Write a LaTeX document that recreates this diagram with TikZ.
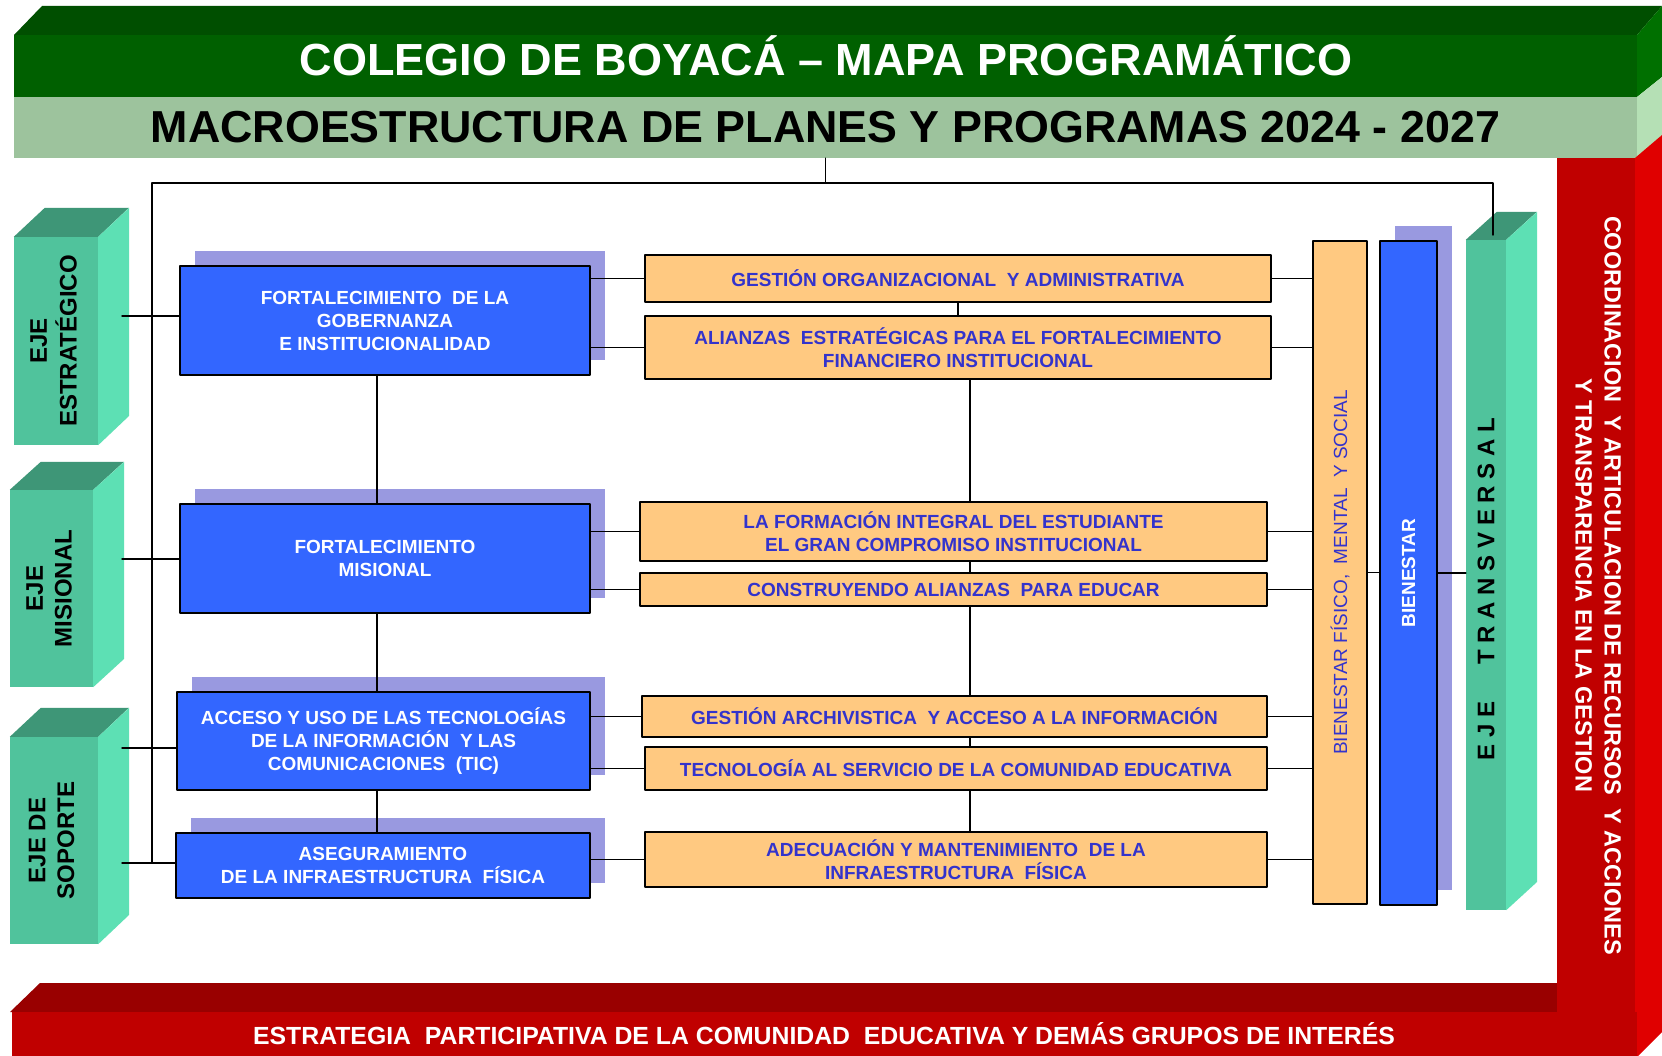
\documentclass[tikz,border=0pt]{standalone}
\usepackage{fontspec}
\setmainfont{Liberation Sans}
\usepackage{graphicx}
\usetikzlibrary{shadows}
\definecolor{qqufqq}{rgb}{0,0.31,0}
\definecolor{qqwqqq}{rgb}{0,0.376,0}
\definecolor{qqxqqq}{rgb}{0,0.44,0}
\definecolor{zdctzd}{rgb}{0.616,0.765,0.616}
\definecolor{bveqbv}{rgb}{0.71,0.878,0.71}
\definecolor{cqqqqq}{rgb}{0.753,0,0}
\definecolor{zzqqqq}{rgb}{0.6,0,0}
\definecolor{eqqqqq}{rgb}{0.878,0,0}
\definecolor{vqctzc}{rgb}{0.314,0.765,0.612}
\definecolor{vdeqbu}{rgb}{0.365,0.878,0.706}
\definecolor{tezwxx}{rgb}{0.243,0.588,0.467}
\definecolor{ttwwff}{rgb}{0.2,0.4,1}
\definecolor{zzzzeq}{rgb}{0.6,0.6,0.878}
\definecolor{ffczyr}{rgb}{1,0.788,0.506}
\definecolor{ttttcc}{rgb}{0.2,0.2,0.8}
\begin{document}
\begin{tikzpicture}[line cap=round,line join=round,x=1pt,y=-1pt,
	conn/.style={line width=1.5pt},
	bluebox/.style={draw=black,line width=1.6pt,fill=ttwwff,text=white,align=center,inner sep=0pt,
		font=\bfseries\fontsize{19}{23}\selectfont,
		general shadow={fill=zzzzeq,shadow xshift=15pt,shadow yshift=15pt}},
	orabox/.style={draw=black,line width=1.6pt,fill=ffczyr,text=ttttcc,align=center,inner sep=0pt,
		font=\bfseries\fontsize{19}{23.5}\selectfont},
	ejeface/.style={fill=vqctzc,inner sep=0pt,font=\bfseries\fontsize{24}{28.6}\selectfont}]
	\useasboundingbox (0,0) rectangle (1662,1056);
	\fill[white] (0,0) rectangle (1662,1056);
	\fill[qqufqq] (14,35) -- (42,6) -- (1662,6) -- (1637,35) -- cycle;
	\fill[qqxqqq] (1637,35) -- (1662,6) -- (1662,77) -- (1637,97) -- cycle;
	\fill[bveqbv] (1637,97) -- (1662,77) -- (1662,135) -- (1637,158) -- cycle;
	\fill[qqwqqq] (14,35) rectangle (1637,97);
	\node[text=white,font=\bfseries\fontsize{45}{50}\selectfont] (titulo) at (826,56) {COLEGIO DE BOYACÁ – MAPA PROGRAMÁTICO};
	\node[fill=zdctzd,minimum width=1623pt,minimum height=61pt,inner sep=0pt,font=\bfseries\fontsize{44.8}{50}\selectfont] (subtit) at (825.5,127.5) {MACROESTRUCTURA DE PLANES Y PROGRAMAS 2024 - 2027};
	\fill[eqqqqq] (1635,158) -- (1662,135) -- (1662,1032) -- (1638,1056) -- (1635,1056) -- cycle;
	\fill[zzqqqq] (10,1012) -- (40,983) -- (1557,983) -- (1557,1012) -- cycle;
	\node[fill=cqqqqq,minimum width=78pt,minimum height=855pt,inner sep=0pt,text=white,font=\bfseries\fontsize{23.5}{29}\selectfont] (columna) at (1596,585.5) {\rotatebox{-90}{\begin{tabular}{@{}c@{}}COORDINACION \ Y ARTICULACION DE RECURSOS \ Y ACCIONES\\Y TRANSPARENCIA EN LA GESTION\end{tabular}}};
	\node[fill=cqqqqq,minimum width=1625pt,minimum height=44pt,inner sep=0pt,text=white,font=\bfseries\fontsize{24.8}{28}\selectfont] (franja) at (824,1034) {ESTRATEGIA \ PARTICIPATIVA DE LA COMUNIDAD \ EDUCATIVA Y DEMÁS GRUPOS DE INTERÉS};
	\node[ejeface,minimum width=84pt,minimum height=208pt] (ejeest) at (56,341) {\rotatebox{90}{\begin{tabular}{@{}c@{}}EJE\\ESTRATÉGICO\end{tabular}}};
	\fill[tezwxx] (ejeest.north west) -- ++(31,-29) -- ++(84,0) -- (ejeest.north east) -- cycle;
	\fill[vdeqbu] (ejeest.north east) -- ++(31,-29) -- ++(0,208) -- (ejeest.south east) -- cycle;
	\node[ejeface,minimum width=83pt,minimum height=197pt] (ejemis) at (51.5,588.5) {\rotatebox{90}{\begin{tabular}{@{}c@{}}EJE\\MISIONAL\end{tabular}}};
	\fill[tezwxx] (ejemis.north west) -- ++(31,-28) -- ++(83,0) -- (ejemis.north east) -- cycle;
	\fill[vdeqbu] (ejemis.north east) -- ++(31,-28) -- ++(0,197) -- (ejemis.south east) -- cycle;
	\node[ejeface,minimum width=88pt,minimum height=207pt] (ejesop) at (54,840.5) {\rotatebox{90}{\begin{tabular}{@{}c@{}}EJE DE\\SOPORTE\end{tabular}}};
	\fill[tezwxx] (ejesop.north west) -- ++(31,-29) -- ++(88,0) -- (ejesop.north east) -- cycle;
	\fill[vdeqbu] (ejesop.north east) -- ++(31,-29) -- ++(0,207) -- (ejesop.south east) -- cycle;
	\node[ejeface,minimum width=40pt,minimum height=670pt] (ejetra) at (1486,575) {\rotatebox{90}{E J E\hspace{37pt}T R A N S V E R S A L\hspace{28pt}}};
	\fill[tezwxx] (ejetra.north west) -- ++(31,-28) -- ++(40,0) -- (ejetra.north east) -- cycle;
	\fill[vdeqbu] (ejetra.north east) -- ++(31,-28) -- ++(0,670) -- (ejetra.south east) -- cycle;
	\node[bluebox,minimum width=410pt,minimum height=109pt] (b1) at (385,320.5) {FORTALECIMIENTO \ DE LA\\GOBERNANZA\\E INSTITUCIONALIDAD};
	\node[bluebox,minimum width=410pt,minimum height=109pt] (b2) at (385,558.5) {FORTALECIMIENTO\\MISIONAL};
	\node[bluebox,minimum width=413pt,minimum height=98pt] (b3) at (383.5,741) {ACCESO Y USO DE LAS TECNOLOGÍAS\\DE LA INFORMACIÓN \ Y LAS\\COMUNICACIONES \ (TIC)};
	\node[bluebox,minimum width=414pt,minimum height=65pt] (b4) at (383,865.5) {ASEGURAMIENTO\\DE LA INFRAESTRUCTURA \ FÍSICA};
	\node[orabox,minimum width=626pt,minimum height=47pt] (o1) at (958,278.5) {GESTIÓN ORGANIZACIONAL \ Y ADMINISTRATIVA};
	\node[orabox,minimum width=626pt,minimum height=63pt] (o2) at (958,347.5) {ALIANZAS \ ESTRATÉGICAS PARA EL FORTALECIMIENTO\\FINANCIERO INSTITUCIONAL};
	\node[orabox,minimum width=627pt,minimum height=59pt] (o3) at (953.5,531.5) {LA FORMACIÓN INTEGRAL DEL ESTUDIANTE\\EL GRAN COMPROMISO INSTITUCIONAL};
	\node[orabox,minimum width=627pt,minimum height=33pt] (o4) at (953.5,589.5) {CONSTRUYENDO ALIANZAS \ PARA EDUCAR};
	\node[orabox,minimum width=625pt,minimum height=41pt] (o5) at (954.5,716.5) {GESTIÓN ARCHIVISTICA \ Y ACCESO A LA INFORMACIÓN};
	\node[orabox,minimum width=622pt,minimum height=43pt] (o6) at (956,768.5) {TECNOLOGÍA AL SERVICIO DE LA COMUNIDAD EDUCATIVA};
	\node[orabox,minimum width=622pt,minimum height=55pt] (o7) at (956,859.5) {ADECUACIÓN Y MANTENIMIENTO \ DE LA\\INFRAESTRUCTURA \ FÍSICA};
	\node[orabox,minimum width=54pt,minimum height=663pt,font=\fontsize{19}{23}\selectfont] (bf) at (1340,572.5) {\rotatebox{90}{BIENESTAR FÍSICO, \ MENTAL \ Y SOCIAL}};
	\node[bluebox,minimum width=57pt,minimum height=664pt] (bb) at (1408.5,573) {\rotatebox{90}{BIENESTAR}};
	\coordinate (topl) at (152,183);
	\coordinate (topr) at (1493,183);
	\coordinate (trtop) at (1493,235);
	\coordinate (pe) at (122,316);
	\coordinate (pm) at (122,559);
	\coordinate (ps1) at (122,748);
	\coordinate (ps2) at (122,863);
	\coordinate (lcol) at (377,0);
	\coordinate (ocol) at (970,0);
	\draw[conn] (subtit.south) -- (subtit.south |- topl);
	\draw[conn] (topl) -- (topr) -- (trtop);
	\draw[conn] (topl) -- (topl |- ps2);
	\draw[conn] (pe) -- (pe -| b1.west);
	\draw[conn] (pm) -- (pm -| b2.west);
	\draw[conn] (ps1) -- (ps1 -| b3.west);
	\draw[conn] (ps2) -- (ps2 -| b4.west);
	\draw[conn] (b1.south -| lcol) -- (b2.north -| lcol) (b2.south -| lcol) -- (b3.north -| lcol) (b3.south -| lcol) -- (b4.north -| lcol);
	\draw[conn] (o1.south) -- (o2.north);
	\draw[conn] (o2.south -| ocol) -- (o3.north -| ocol) (o3.south -| ocol) -- (o4.north -| ocol) (o4.south -| ocol) -- (o5.north -| ocol) (o5.south -| ocol) -- (o6.north -| ocol) (o6.south -| ocol) -- (o7.north -| ocol);
	\draw[conn] (o1.west) -- (o1.west -| b1.east) (o2.west) -- (o2.west -| b1.east);
	\draw[conn] (o3.west) -- (o3.west -| b2.east) (o4.west) -- (o4.west -| b2.east);
	\draw[conn] (o5.west) -- (o5.west -| b3.east) (o6.west) -- (o6.west -| b3.east);
	\draw[conn] (o7.west) -- (o7.west -| b4.east);
	\draw[conn] (o1.east) -- (o1.east -| bf.west) (o2.east) -- (o2.east -| bf.west) (o3.east) -- (o3.east -| bf.west) (o4.east) -- (o4.east -| bf.west) (o5.east) -- (o5.east -| bf.west) (o6.east) -- (o6.east -| bf.west) (o7.east) -- (o7.east -| bf.west);
	\draw[conn] (bf.east) -- (bf.east -| bb.west);
	\draw[conn] (bb.east) -- (bb.east -| ejetra.west);
\end{tikzpicture}
\end{document}
